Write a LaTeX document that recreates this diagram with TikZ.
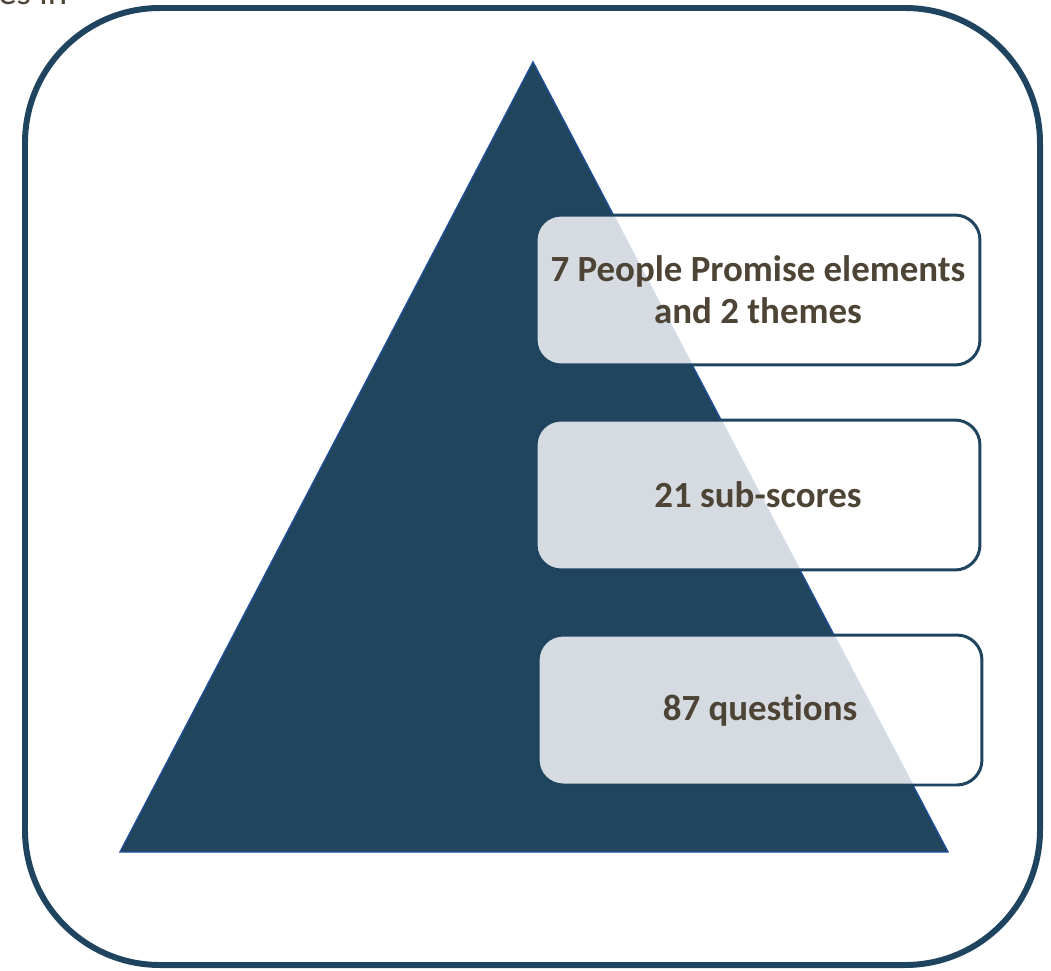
\documentclass[tikz,border=0pt]{standalone}
\usepackage{fontspec}
\setmainfont[Ligatures=CommonOff]{Carlito}
\definecolor{navy}{HTML}{21455D}
\definecolor{frameblue}{HTML}{1F4460}
\definecolor{edgeblue}{HTML}{1F4E99}
\definecolor{labelbrown}{HTML}{4D4436}
\begin{document}
\begin{tikzpicture}[x=0.02cm,y=-0.02cm,
    levelbox/.style={draw=frameblue, line width=1.7pt, fill=white, fill opacity=0.81,
      text opacity=1, rounded corners=0.5cm, minimum width=8.88cm, minimum height=3cm,
      align=center, text=labelbrown, font=\fontsize{21}{24}\selectfont\bfseries}]
      \useasboundingbox (0,0) rectangle (1051,970);
      \node[anchor=base west, text=labelbrown, font=\fontsize{21}{24}\selectfont, inner sep=0pt] (cut) at (-2,5) {es in};
      \draw[frameblue, line width=3.4pt, rounded corners=2.7cm] (25,8) rectangle (1040,965);
      \coordinate (apex) at (533,62);
      \coordinate (bl) at (120,852);
      \coordinate (br) at (948,852);
      \filldraw[fill=navy, draw=edgeblue, line width=0.8pt] (apex) -- (br) -- (bl) -- cycle;
      \node[levelbox] (elem) at (758,290) {7 People Promise elements\\and 2 themes};
      \node[levelbox] (subs) at (758,495) {21 sub-scores};
      \node[levelbox] (quest) at (760,710) {87 questions};
      \end{tikzpicture}
\end{document}
